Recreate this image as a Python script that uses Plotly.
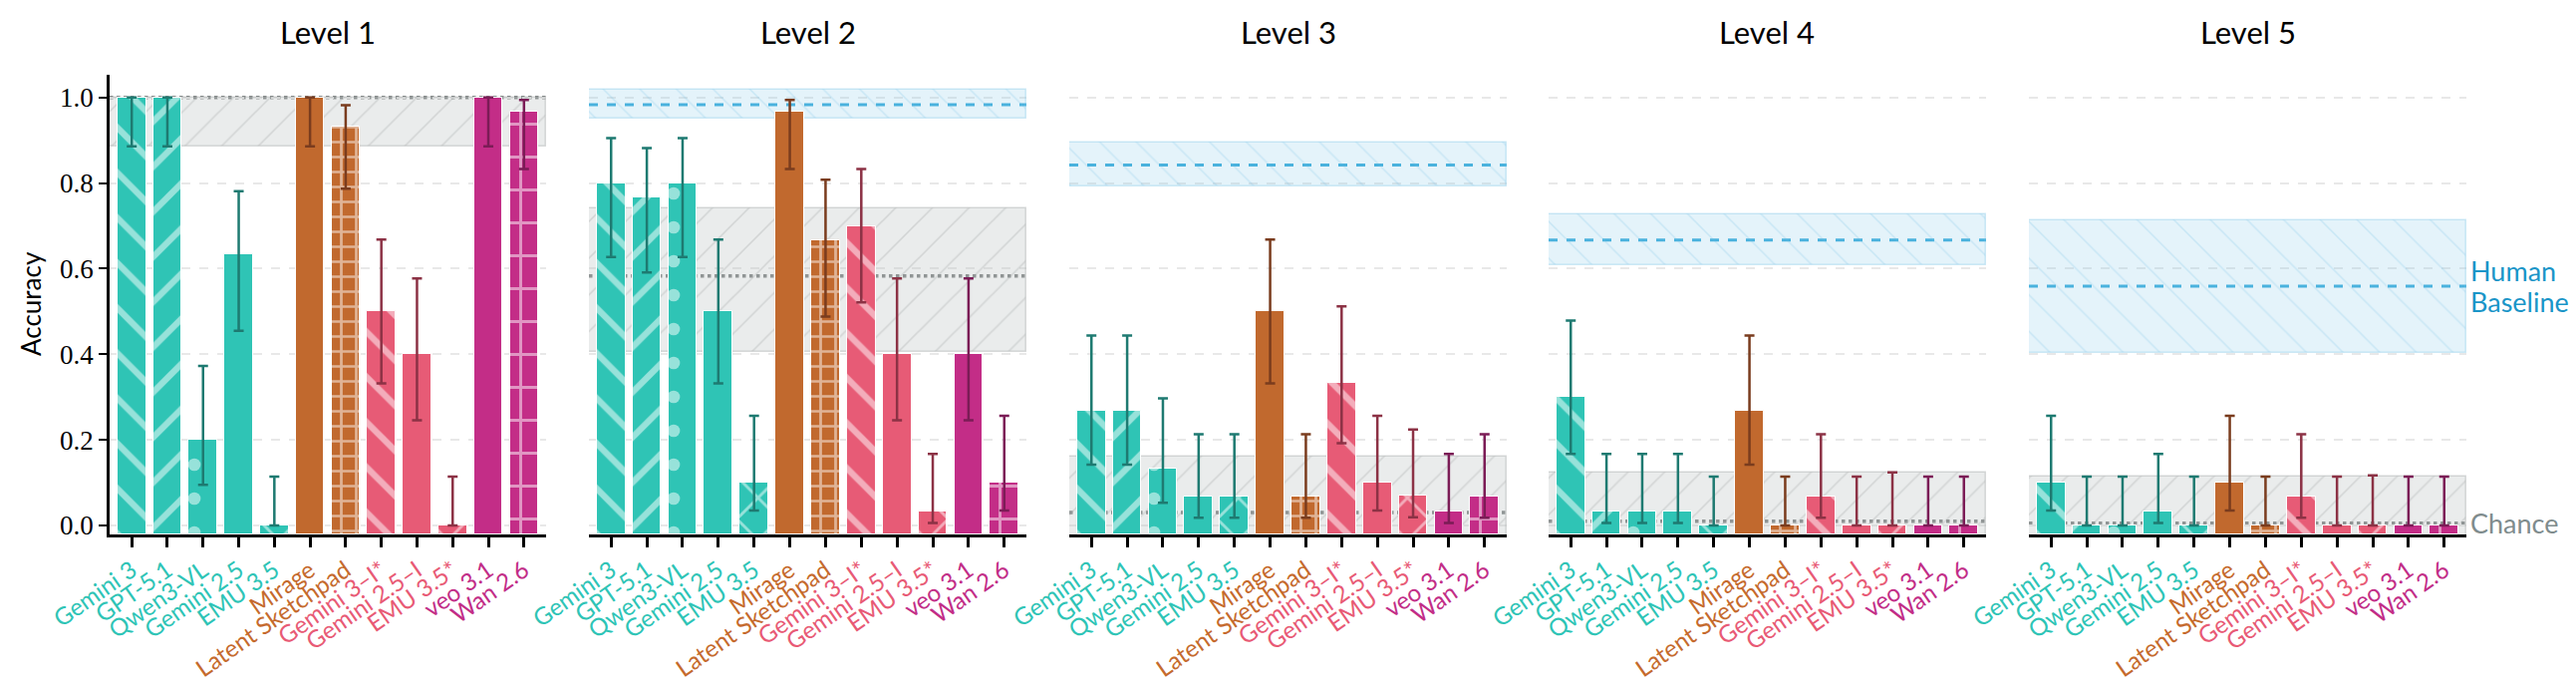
import plotly.graph_objects as go

# ---------------- data ----------------
models = ["Gemini 3", "GPT-5.1", "Qwen3-VL", "Gemini 2.5", "EMU 3.5",
          "Mirage", "Latent Sketchpad",
          "Gemini 3–I*", "Gemini 2.5–I", "EMU 3.5*",
          "veo 3.1", "Wan 2.6"]
groups = ["mllm"] * 5 + ["latent"] * 2 + ["image"] * 3 + ["video"] * 2
levels = ["Level 1", "Level 2", "Level 3", "Level 4", "Level 5"]

acc_l1 = [1.0, 1.0, 0.2, 0.633, 0.0, 1.0, 0.933, 0.5, 0.4, 0.0, 1.0, 0.967]
lo_l1 = [0.886, 0.886, 0.095, 0.455, 0.0, 0.886, 0.787, 0.332, 0.246, 0.0, 0.886, 0.833]
hi_l1 = [1.0, 1.0, 0.373, 0.781, 0.114, 1.0, 0.982, 0.668, 0.577, 0.114, 1.0, 0.994]

acc_l2 = [0.8, 0.767, 0.8, 0.5, 0.1, 0.967, 0.667, 0.7, 0.4, 0.033, 0.4, 0.1]
lo_l2 = [0.627, 0.591, 0.627, 0.332, 0.035, 0.833, 0.488, 0.521, 0.246, 0.006, 0.246, 0.035]
hi_l2 = [0.905, 0.882, 0.905, 0.668, 0.256, 0.994, 0.808, 0.833, 0.577, 0.167, 0.577, 0.256]

acc_l3 = [0.267, 0.267, 0.133, 0.067, 0.067, 0.5, 0.067, 0.333, 0.1, 0.069, 0.033, 0.067]
lo_l3 = [0.142, 0.142, 0.053, 0.018, 0.018, 0.332, 0.018, 0.192, 0.035, 0.019, 0.006, 0.018]
hi_l3 = [0.444, 0.444, 0.297, 0.213, 0.213, 0.668, 0.213, 0.512, 0.256, 0.224, 0.167, 0.213]

acc_l4 = [0.3, 0.033, 0.033, 0.033, 0.0, 0.267, 0.0, 0.067, 0.0, 0.0, 0.0, 0.0]
lo_l4 = [0.167, 0.006, 0.006, 0.006, 0.0, 0.142, 0.0, 0.018, 0.0, 0.0, 0.0, 0.0]
hi_l4 = [0.479, 0.167, 0.167, 0.167, 0.114, 0.444, 0.114, 0.213, 0.114, 0.124, 0.114, 0.114]

acc_l5 = [0.1, 0.0, 0.0, 0.033, 0.0, 0.1, 0.0, 0.067, 0.0, 0.0, 0.0, 0.0]
lo_l5 = [0.035, 0.0, 0.0, 0.006, 0.0, 0.035, 0.0, 0.018, 0.0, 0.0, 0.0, 0.0]
hi_l5 = [0.256, 0.114, 0.114, 0.167, 0.114, 0.256, 0.114, 0.213, 0.114, 0.117, 0.114, 0.114]

acc = [acc_l1, acc_l2, acc_l3, acc_l4, acc_l5]
lo = [lo_l1, lo_l2, lo_l3, lo_l4, lo_l5]
hi = [hi_l1, hi_l2, hi_l3, hi_l4, hi_l5]

# human baseline (mean, low, high) per level; None = not shown
human_mean = [None, 0.983, 0.842, 0.667, 0.559]
human_lo = [None, 0.950, 0.791, 0.608, 0.402]
human_hi = [None, 1.017, 0.894, 0.727, 0.714]

# grey reference band (mean, low, high)
ref_mean = [1.0, 0.583, 0.030, 0.010, 0.005]
ref_lo = [0.885, 0.405, -0.10, -0.10, -0.10]
ref_hi = [1.0, 0.741, 0.160, 0.124, 0.115]

chance = [0.0, 0.0, 0.0, 0.0, 0.0]

yticks = [0.0, 0.2, 0.4, 0.6, 0.8, 1.0]

# ---------------- styles ----------------
bar_color = {"mllm": "#2FC4B5", "latent": "#C1692E", "image": "#E75B76", "video": "#C32D87"}
err_color = {"mllm": "#1E7A71", "latent": "#7A3C1E", "image": "#8C3245", "video": "#7B1C56"}
label_color = {"mllm": "#2EC4B6", "latent": "#C56A2D", "image": "#E85A75", "video": "#C22D87"}
pat_shape = ["\\", "/", ".", "", "x", "", "+", "\\", "", "x", "", "+"]
pat_size = [32, 32, 34, 10, 30, 10, 15, 32, 10, 30, 10, 33]
pat_solid = [0.2, 0.2, 0.11, 0.1, 0.18, 0.1, 0.33, 0.2, 0.1, 0.18, 0.1, 0.17]

W, H = 2585, 691
dom_px = [(110, 548), (591, 1030), (1073, 1512), (1554, 1993), (2036, 2475)]
ydom = [1 - 536 / H, 1 - 75 / H]
YMIN, YMAX = -0.021, 1.053
XMIN, XMAX = -0.62, 11.62
SANS = "Lato"
SERIF = "Liberation Serif"

fig = go.Figure()
shapes = []
annotations = []
layout = {}

ticktext = ["<span style='color:%s'>%s</span>" % (label_color[g], m) for m, g in zip(models, groups)]

for i in range(5):
    sfx = "" if i == 0 else str(i + 1)
    xa, ya = "x" + sfx, "y" + sfx
    xc = (XMIN + XMAX) / 2
    span = XMAX - XMIN

    # grey reference band
    fig.add_trace(go.Bar(
        x=[xc], y=[ref_hi[i] - ref_lo[i]], base=[ref_lo[i]], width=[span],
        xaxis=xa, yaxis=ya, showlegend=False, hoverinfo="skip",
        marker=dict(color="rgba(190,196,196,0.32)",
                    line=dict(color="rgba(170,176,176,0.45)", width=1.5),
                    pattern=dict(shape="/", size=26, solidity=0.06,
                                 fgcolor="rgba(150,156,156,0.6)", fillmode="overlay"))))
    # human band
    if human_mean[i] is not None:
        fig.add_trace(go.Bar(
            x=[xc], y=[human_hi[i] - human_lo[i]], base=[human_lo[i]], width=[span],
            xaxis=xa, yaxis=ya, showlegend=False, hoverinfo="skip",
            marker=dict(color="rgba(120,195,230,0.20)",
                        line=dict(color="rgba(120,195,230,0.35)", width=1.5),
                        pattern=dict(shape="\\", size=26, solidity=0.06,
                                     fgcolor="rgba(100,185,225,0.45)", fillmode="overlay"))))
        shapes.append(dict(type="line", xref=xa + " domain", yref=ya, x0=0, x1=1,
                           y0=human_mean[i], y1=human_mean[i], layer="below",
                           line=dict(color="#3FAEDB", width=3, dash="dash")))
    # grey reference line
    shapes.append(dict(type="line", xref=xa + " domain", yref=ya, x0=0, x1=1,
                       y0=ref_mean[i], y1=ref_mean[i], layer="below",
                       line=dict(color="#7A7F7F", width=3.5, dash="dot")))
    # chance line
    shapes.append(dict(type="line", xref=xa + " domain", yref=ya, x0=0, x1=1,
                       y0=chance[i], y1=chance[i], layer="below",
                       line=dict(color="#707070", width=2, dash="dash")))

    # model bars, one trace per group
    for g in ["mllm", "latent", "image", "video"]:
        idx = [k for k in range(len(models)) if groups[k] == g]
        a = [acc[i][k] for k in idx]
        fig.add_trace(go.Bar(
            x=idx, y=[v - YMIN for v in a], base=[YMIN] * len(idx), width=0.8,
            xaxis=xa, yaxis=ya, showlegend=False,
            marker=dict(color=bar_color[g], line=dict(color="white", width=1),
                        pattern=dict(shape=[pat_shape[k] for k in idx],
                                     size=[pat_size[k] for k in idx],
                                     solidity=[pat_solid[k] for k in idx],
                                     fgcolor="white", fillmode="overlay")),
            error_y=dict(type="data", symmetric=False,
                         array=[hi[i][k] - acc[i][k] for k in idx],
                         arrayminus=[acc[i][k] - lo[i][k] for k in idx],
                         color=err_color[g], thickness=2.5, width=5)))

    x0p, x1p = dom_px[i][0] / W, dom_px[i][1] / W
    layout["xaxis" + sfx] = dict(
        domain=[x0p, x1p], anchor=ya, range=[XMIN, XMAX], automargin=False,
        tickvals=list(range(len(models))), ticktext=ticktext, tickangle=-35,
        tickfont=dict(family=SANS, size=24), showgrid=False, zeroline=False,
        showline=True, linecolor="black", linewidth=2.5, ticklabelstandoff=0,
        ticks="outside", ticklen=10, tickwidth=2.5, tickcolor="black")
    layout["yaxis" + sfx] = dict(
        domain=ydom, anchor=xa, range=[YMIN, YMAX], tickvals=yticks, automargin=False,
        ticktext=["%.1f" % t for t in yticks],
        showgrid=True, gridcolor="#E8E8E8", griddash="dash", gridwidth=1.5,
        zeroline=False,
        showline=(i == 0), linecolor="black", linewidth=2.5,
        ticks="outside" if i == 0 else "", ticklen=8, tickwidth=2, tickcolor="black",
        showticklabels=(i == 0), tickfont=dict(family=SERIF, size=27, color="black"))
    if i > 0:
        layout["yaxis" + sfx]["matches"] = "y"

    annotations.append(dict(text=levels[i], xref="paper", yref="paper",
                            x=(x0p + x1p) / 2, y=1 - 32 / H, xanchor="center", yanchor="middle",
                            showarrow=False, font=dict(family=SANS, size=31, color="black")))

annotations.append(dict(text="Accuracy", xref="paper", yref="paper", x=31 / W, y=1 - 305 / H,
                        textangle=-90, showarrow=False, xanchor="center", yanchor="middle",
                        font=dict(family=SANS, size=26, color="black")))
annotations.append(dict(text="Human", xref="paper", yref="y5", x=2477 / W,
                        y=human_mean[4] + 0.037, xanchor="left", yanchor="middle", align="left",
                        showarrow=False, font=dict(family=SANS, size=27, color="#1A95C8")))
annotations.append(dict(text="Baseline", xref="paper", yref="y5", x=2477 / W,
                        y=human_mean[4] - 0.037, xanchor="left", yanchor="middle", align="left",
                        showarrow=False, font=dict(family=SANS, size=27, color="#1A95C8")))
annotations.append(dict(text="Chance", xref="paper", yref="y5", x=2477 / W,
                        y=chance[4] + 0.005, xanchor="left", yanchor="middle", align="left",
                        showarrow=False, font=dict(family=SANS, size=27, color="#7F8C8D")))

fig.update_layout(width=W, height=H, margin=dict(l=0, r=0, t=0, b=0),
                  plot_bgcolor="white", paper_bgcolor="white", barmode="overlay",
                  bargap=0, shapes=shapes, annotations=annotations, **layout)

fig.write_html("out.html")
